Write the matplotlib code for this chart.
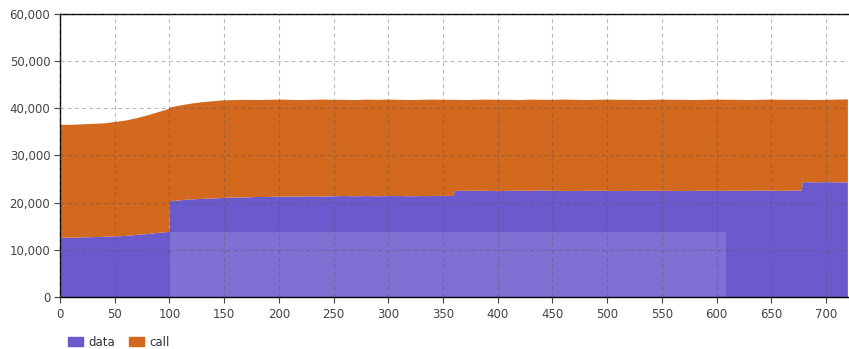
import matplotlib.pyplot as plt
import matplotlib.patches as mpatches
from matplotlib.ticker import FuncFormatter

# x positions (extra points right after each step so the jumps stay sharp)
x = (list(range(0, 101, 10)) + [100.5] + list(range(110, 361, 10)) + [360.5]
     + list(range(370, 671, 10)) + [678, 678.5] + list(range(680, 721, 10)))

# data series (bottom, purple)
data = [12600, 12550, 12650, 12700, 12750, 12850, 12950, 13150, 13350, 13600, 13800,
        20300,
        20500, 20700, 20800, 20900, 21000, 21100, 21100, 21200, 21200, 21300,
        21300, 21300, 21350, 21300, 21350, 21400, 21350, 21400, 21350, 21400,
        21400, 21350, 21400, 21400, 21450, 21400,
        22500,
        22500, 22550, 22500, 22450, 22500, 22550, 22500, 22600, 22500, 22500,
        22450, 22500, 22550, 22500, 22450, 22500, 22500, 22550, 22500, 22500,
        22450, 22500, 22550, 22500, 22500, 22550, 22500, 22600, 22550, 22500,
        22550, 22600,
        24300,
        24350, 24300, 24350, 24300, 24300]

# call + data (top of the stack)
total = [36500, 36500, 36600, 36700, 36800, 37100, 37400, 37900, 38500, 39200, 39900,
         40150,
         40600, 41000, 41300, 41500, 41700, 41750, 41800, 41750, 41800, 41850,
         41800, 41750, 41800, 41850, 41800, 41800, 41750, 41850, 41800, 41850,
         41800, 41750, 41800, 41850, 41800, 41800,
         41800,
         41750, 41800, 41850, 41800, 41800, 41750, 41850, 41800, 41800, 41850,
         41800, 41750, 41800, 41850, 41800, 41800, 41750, 41800, 41850, 41800,
         41800, 41750, 41800, 41850, 41800, 41800, 41750, 41800, 41850, 41800,
         41800, 41800,
         41800,
         41800, 41750, 41800, 41850, 41900]

call = [t - d for t, d in zip(total, data)]

c_data = '#6A5ACD'
c_call = '#D2691E'

fig = plt.figure(figsize=(8.49, 3.49), dpi=100)
ax = fig.add_axes([0.0707, 0.149, 0.928, 0.811])

ax.stackplot(x, data, call, colors=[c_data, c_call], linewidth=0)

# faint light band seen over the lower part of the plot
ax.add_patch(mpatches.Rectangle((100.5, 0), 508.5, 13800, facecolor='white',
                                alpha=0.14, linewidth=0, zorder=2))

ax.set_xlim(0, 720)
ax.set_ylim(0, 60000)
ax.set_xticks(range(0, 701, 50))
ax.set_yticks(range(0, 60001, 10000))
ax.yaxis.set_major_formatter(FuncFormatter(lambda v, p: f'{int(v):,}'))

ax.set_axisbelow(False)
ax.grid(True, linestyle=(0, (3.5, 3)), color='#555555', alpha=0.4, linewidth=0.8)

for s in ['left', 'bottom', 'top']:
    ax.spines[s].set_color('black')
    ax.spines[s].set_linewidth(1.0)
ax.spines['right'].set_visible(False)

ax.tick_params(axis='x', length=4, color='#444444', labelcolor='#444444', labelsize=8.5, pad=4)
ax.tick_params(axis='y', length=4, color='#444444', labelcolor='#444444', labelsize=8.5, pad=3)

handles = [mpatches.Patch(color=c_data, label='data'),
           mpatches.Patch(color=c_call, label='call')]
fig.legend(handles=handles, loc='lower left', bbox_to_anchor=(0.068, -0.03), ncol=2,
           frameon=False, fontsize=8.5, handlelength=1.2, handleheight=0.8,
           handletextpad=0.5, columnspacing=1.2, labelcolor='#333333')

fig.savefig('out.png', dpi=100)
